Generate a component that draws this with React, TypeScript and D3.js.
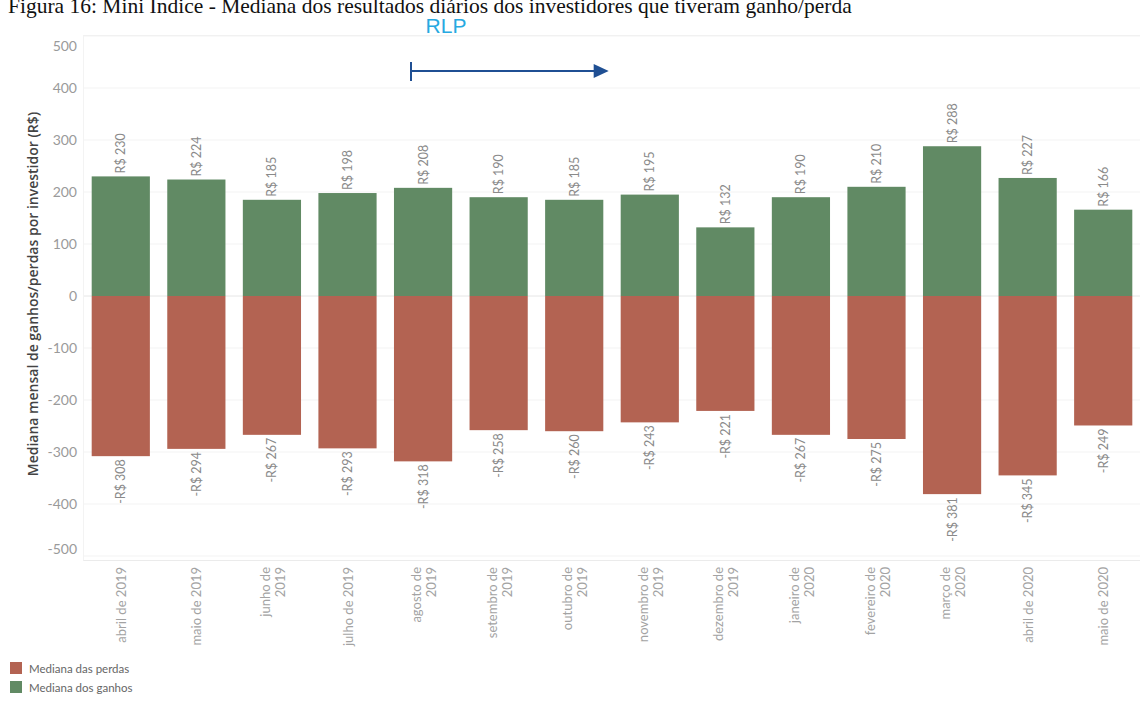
import React from "react";
import * as d3 from "d3";

const months: string[][] = [
  ["abril de 2019"],
  ["maio de 2019"],
  ["junho de", "2019"],
  ["julho de 2019"],
  ["agosto de", "2019"],
  ["setembro de", "2019"],
  ["outubro de", "2019"],
  ["novembro de", "2019"],
  ["dezembro de", "2019"],
  ["janeiro de", "2020"],
  ["fevereiro de", "2020"],
  ["março de", "2020"],
  ["abril de 2020"],
  ["maio de 2020"],
];
const gains = [230, 224, 185, 198, 208, 190, 185, 195, 132, 190, 210, 288, 227, 166];
const losses = [-308, -294, -267, -293, -318, -258, -260, -243, -221, -267, -275, -381, -345, -249];
const yTicks = [500, 400, 300, 200, 100, 0, -100, -200, -300, -400, -500];
const legendItems = [
  { label: "Mediana das perdas", key: "loss" },
  { label: "Mediana dos ganhos", key: "gain" },
];
const title = "Figura 16: Mini Índice - Mediana dos resultados diários dos investidores que tiveram ganho/perda";
const annotationText = "RLP";

const W = 1140;
const H = 704;
const GREEN = "#618a64";
const RED = "#b36352";
const SANS = "Lato, 'Open Sans', sans-serif";

export default function App() {
  const keys = months.map((m) => m.join(" "));
  const x = d3.scaleBand<string>().domain(keys).range([83, 1141]).paddingInner(0.23).paddingOuter(0.115);
  const y = d3.scaleLinear().domain([-500, 500]).range([556, 36]);
  const fmt = (v: number) => (v < 0 ? `-R$ ${Math.abs(v)}` : `R$ ${v}`);
  const bw = x.bandwidth();
  const plotTop = 35.5;
  const plotBottom = 560.5;

  const arrowX0 = (x(keys[4]) as number) + 17;
  const arrowX1 = (x(keys[7]) as number) - 12;
  const arrowY = 71;

  return (
    <svg
      width={W}
      height={H}
      style={{ position: "absolute", left: 0, top: 0, background: "#fff" }}
      viewBox={`0 0 ${W} ${H}`}
    >
      <text x={8} y={13} fontFamily="'Liberation Serif', 'Times New Roman', serif" fontSize={21.5} fill="#111">
        {title}
      </text>

      {/* plot frame lines */}
      <line x1={83} x2={W} y1={plotTop} y2={plotTop} stroke="#efefef" />
      <line x1={83} x2={W} y1={plotBottom} y2={plotBottom} stroke="#ebebeb" />
      {yTicks.map((t) => (
        <g key={t}>
          <line x1={83} x2={W} y1={y(t)} y2={y(t)} stroke={t === 0 ? "#e6e6e6" : "#f3f3f3"} />
          <text
            x={77}
            y={Math.min(Math.max(y(t), 46), 549)}
            dy="0.35em"
            textAnchor="end"
            fontFamily={SANS}
            fontSize={14}
            fill="#9a9a9a"
          >
            {t}
          </text>
        </g>
      ))}
      <line x1={83.5} x2={83.5} y1={plotTop} y2={plotBottom} stroke="#f3f3f3" />

      {/* bars */}
      {keys.map((k, i) => {
        const bx = x(k) as number;
        const cx = bx + bw / 2;
        const g = gains[i];
        const l = losses[i];
        return (
          <g key={k}>
            <rect x={bx} y={y(g)} width={bw} height={y(0) - y(g)} fill={GREEN} />
            <rect x={bx} y={y(0)} width={bw} height={y(l) - y(0)} fill={RED} />
            <text
              transform={`translate(${cx},${y(g) - 3}) rotate(-90)`}
              textAnchor="start"
              dominantBaseline="central"
              fontFamily={SANS}
              fontSize={12.5}
              fill="#8a8a8a"
            >
              {fmt(g)}
            </text>
            <text
              transform={`translate(${cx},${y(l) + 3}) rotate(-90)`}
              textAnchor="end"
              dominantBaseline="central"
              fontFamily={SANS}
              fontSize={12.5}
              fill="#8a8a8a"
            >
              {fmt(l)}
            </text>
            {months[i].map((line, j) => {
              const n = months[i].length;
              const off = n === 1 ? 0 : j === 0 ? -7 : 8;
              return (
                <text
                  key={j}
                  transform={`translate(${cx + off},${567}) rotate(-90)`}
                  textAnchor="end"
                  dominantBaseline="central"
                  fontFamily={SANS}
                  fontSize={13}
                  fill="#a3a3a3"
                >
                  {line}
                </text>
              );
            })}
          </g>
        );
      })}

      {/* y axis label */}
      <text
        transform={`translate(32,${294}) rotate(-90)`}
        textAnchor="middle"
        dominantBaseline="central"
        fontFamily="'Open Sans', sans-serif"
        fontWeight={600}
        fontSize={14}
        fill="#444"
      >
        Mediana mensal de ganhos/perdas por investidor (R$)
      </text>

      {/* RLP annotation */}
      <text
        x={arrowX0 + 35}
        y={33}
        textAnchor="middle"
        fontFamily="'Liberation Sans', Arial, sans-serif"
        fontSize={21}
        fill="#27a9e1"
      >
        {annotationText}
      </text>
      <line x1={arrowX0} x2={arrowX0} y1={arrowY - 9} y2={arrowY + 10} stroke="#1f4f93" strokeWidth={2} />
      <line x1={arrowX0} x2={arrowX1 - 14} y1={arrowY} y2={arrowY} stroke="#1f4f93" strokeWidth={2} />
      <path
        d={`M${arrowX1 - 15},${arrowY - 7} L${arrowX1},${arrowY} L${arrowX1 - 15},${arrowY + 7} Z`}
        fill="#1f4f93"
      />

      {/* legend */}
      {legendItems.map((it, i) => (
        <g key={it.key}>
          <rect x={10} y={662 + i * 19} width={12} height={12} fill={it.key === "loss" ? RED : GREEN} />
          <text
            x={29}
            y={668 + i * 19}
            dominantBaseline="central"
            fontFamily={SANS}
            fontSize={11.5}
            fill="#666"
          >
            {it.label}
          </text>
        </g>
      ))}
    </svg>
  );
}
